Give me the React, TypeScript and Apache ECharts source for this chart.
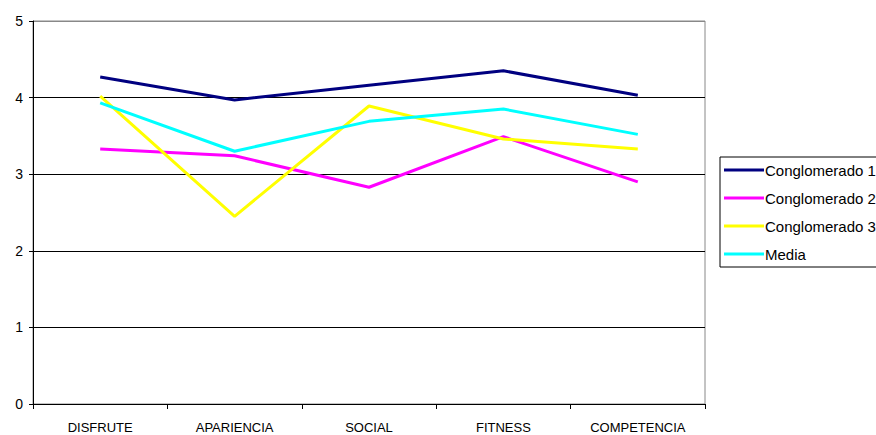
import React, { useEffect, useRef } from "react";
import * as echarts from "echarts";

const categories = ["DISFRUTE", "APARIENCIA", "SOCIAL", "FITNESS", "COMPETENCIA"];
const conglomerado1 = [4.27, 3.97, 4.16, 4.35, 4.03];
const conglomerado2 = [3.33, 3.24, 2.83, 3.49, 2.9];
const conglomerado3 = [4.02, 2.45, 3.89, 3.46, 3.33];
const media = [3.93, 3.3, 3.69, 3.85, 3.52];

const seriesNames = ["Conglomerado 1", "Conglomerado 2", "Conglomerado 3", "Media"];
const seriesColors = ["#000080", "#FF00FF", "#FFFF00", "#00FFFF"];
const seriesData = [conglomerado1, conglomerado2, conglomerado3, media];

export default function App() {
  const ref = useRef<HTMLDivElement>(null);
  useEffect(() => {
    const chart = echarts.init(ref.current!, null, { renderer: "svg" });
    chart.setOption({
      animation: false,
      backgroundColor: "#ffffff",
      textStyle: { fontFamily: "Liberation Sans, Arial, sans-serif" },
      grid: {
        left: 33,
        top: 21,
        right: 171,
        bottom: 31,
        show: true,
        borderColor: "#888888",
        borderWidth: 1,
      },
      legend: {
        orient: "vertical",
        left: 720,
        top: 157,
        data: seriesNames,
        icon: "rect",
        itemWidth: 40,
        itemHeight: 3,
        itemGap: 12,
        padding: [5, 200, 5, 4],
        borderColor: "#000000",
        borderWidth: 1,
        borderRadius: 0,
        textStyle: {
          fontSize: 15,
          color: "#000",
          padding: [0, 0, 0, -4],
          lineHeight: 16,
          fontFamily: "Liberation Sans, Arial, sans-serif",
        },
      },
      xAxis: {
        type: "category",
        data: categories,
        boundaryGap: true,
        axisLine: { lineStyle: { color: "#000", width: 1 } },
        axisTick: { show: true, length: 5, lineStyle: { color: "#000" } },
        axisLabel: { color: "#000", fontSize: 13, margin: 17 },
        splitLine: { show: false },
      },
      yAxis: {
        type: "value",
        min: 0,
        max: 5,
        interval: 1,
        axisLine: { show: true, lineStyle: { color: "#000", width: 1 } },
        axisTick: { show: true, length: 4, lineStyle: { color: "#000" } },
        axisLabel: { color: "#000", fontSize: 14, margin: 10 },
        splitLine: {
          show: true,
          lineStyle: { color: ["#000", "#000", "#000", "#000", "#000", "#888"], width: 1 },
        },
      },
      series: seriesNames.map((name, i) => ({
        name,
        type: "line",
        data: seriesData[i],
        showSymbol: false,
        symbol: "none",
        lineStyle: { color: seriesColors[i], width: 3 },
        itemStyle: { color: seriesColors[i] },
      })),
    });
    return () => chart.dispose();
  }, []);
  return (
    <div
      ref={ref}
      style={{ position: "fixed", left: 0, top: 0, width: 876, height: 435 }}
    />
  );
}
